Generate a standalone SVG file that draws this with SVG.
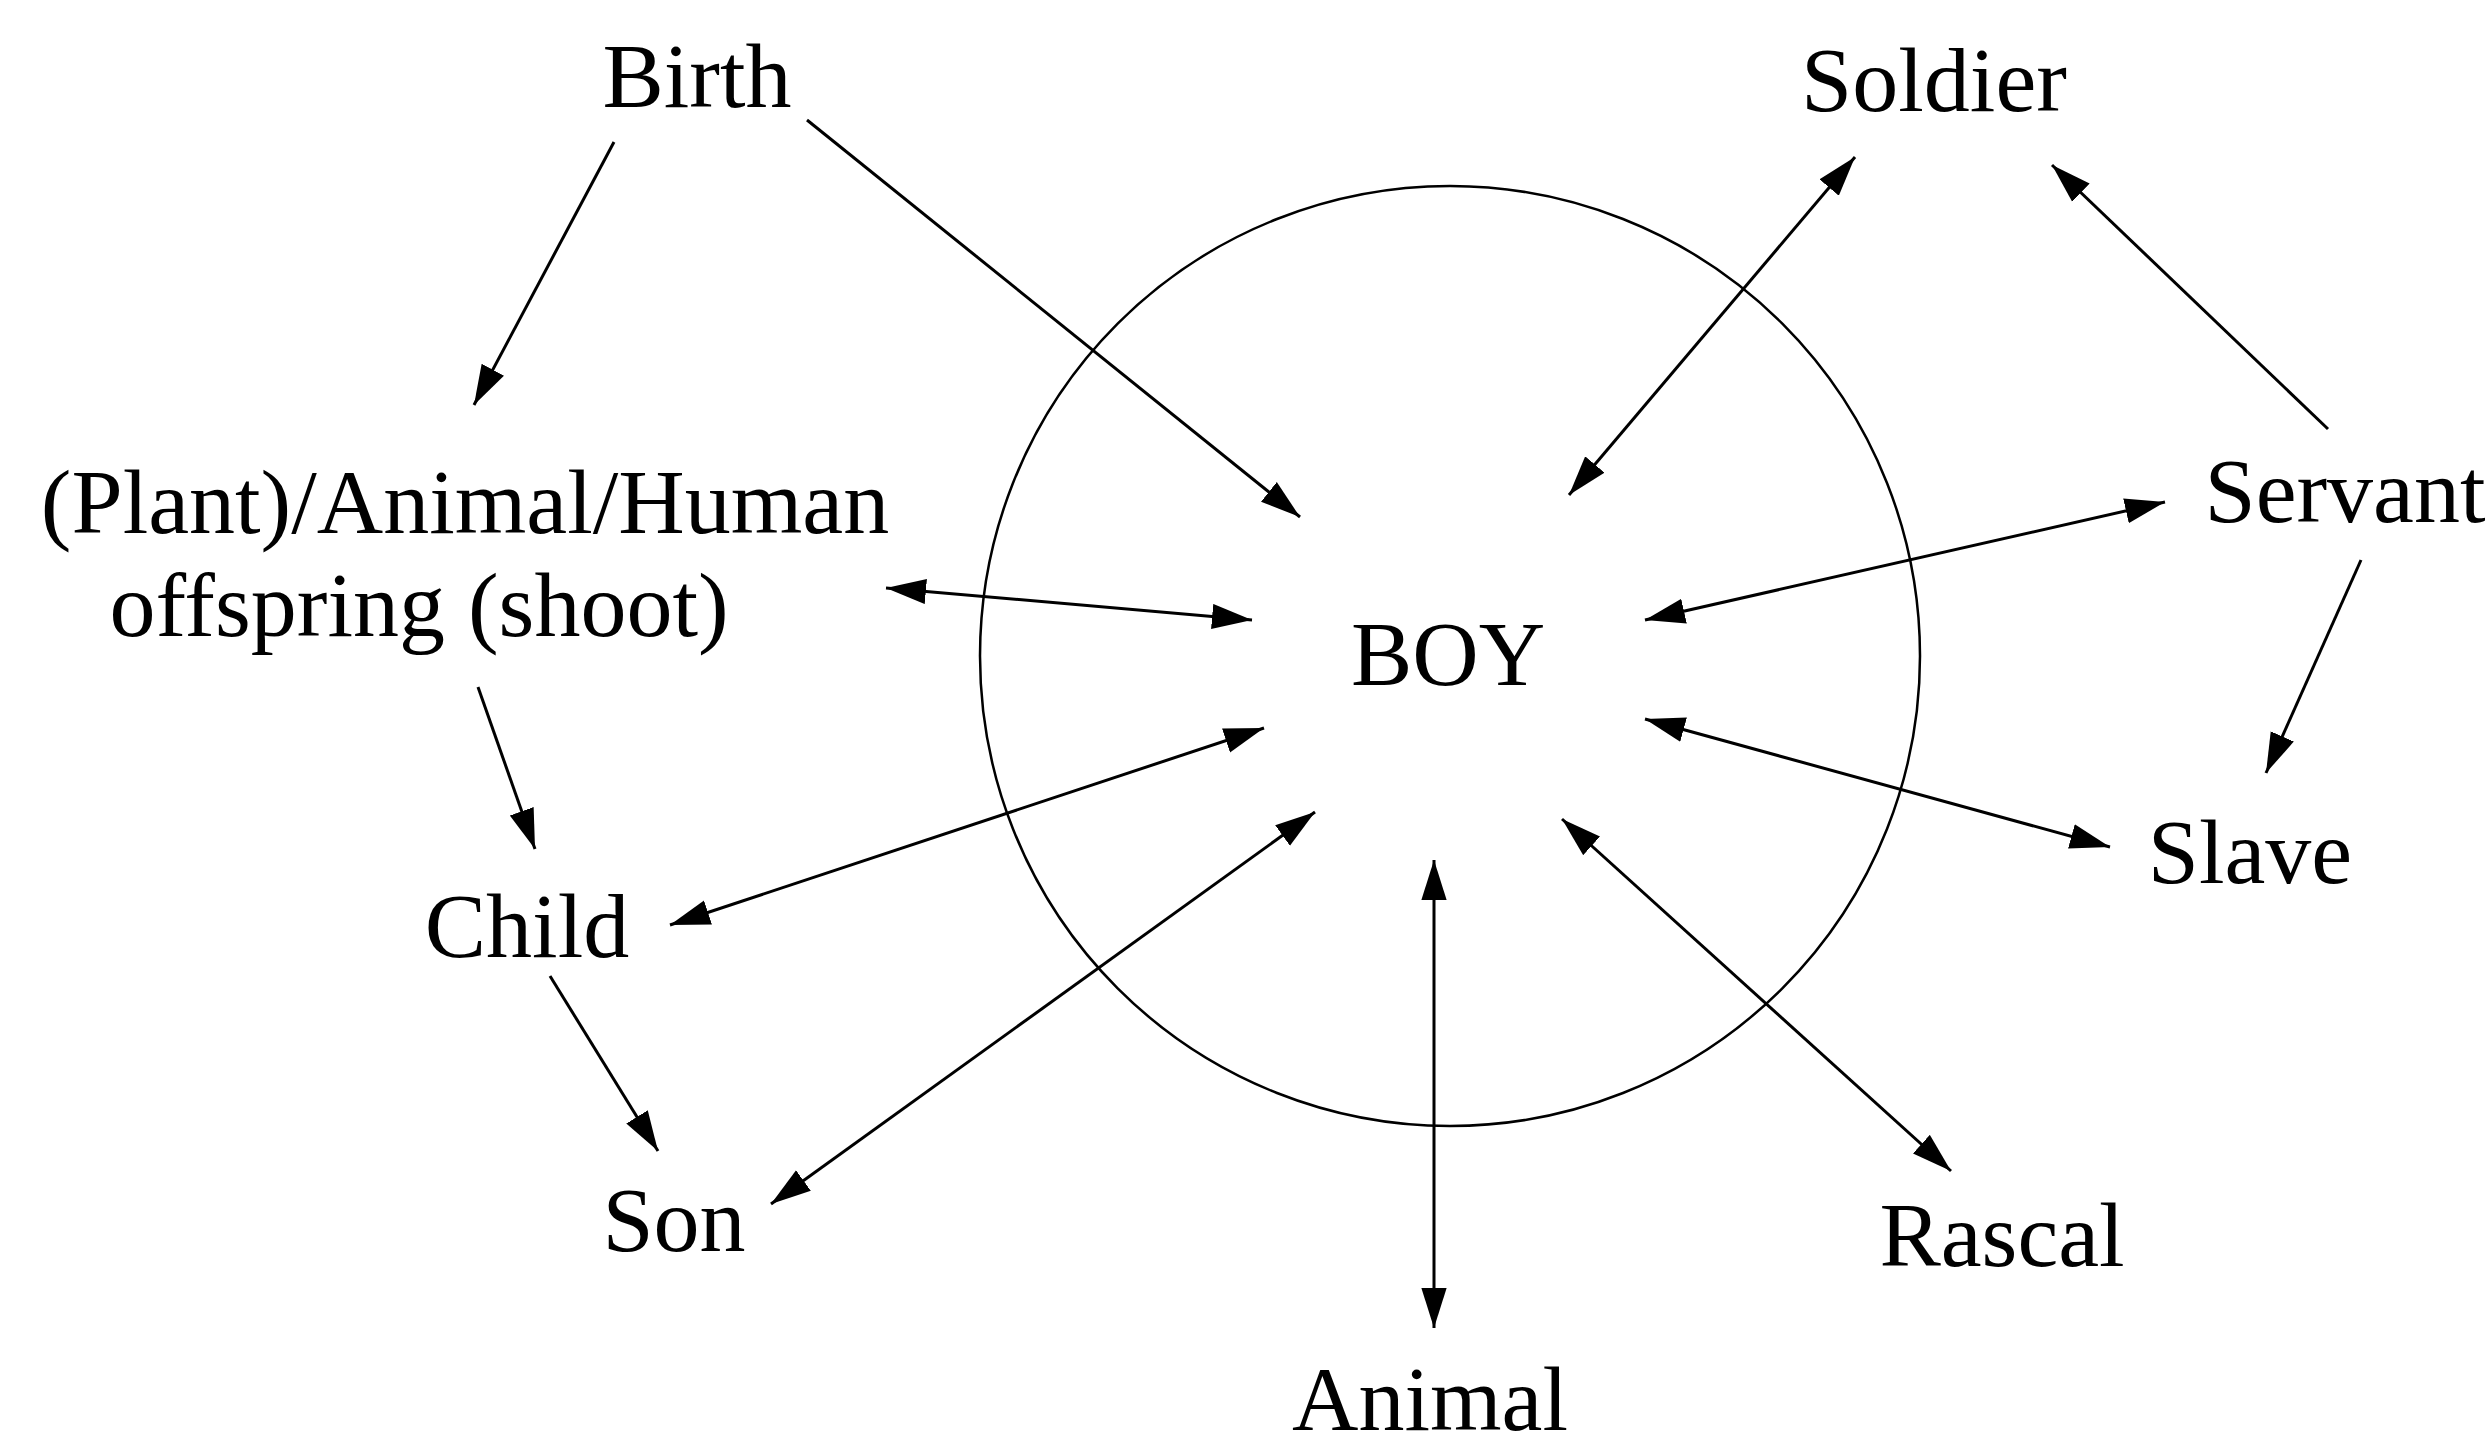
<svg xmlns="http://www.w3.org/2000/svg" width="2491" height="1452" viewBox="0 0 2491 1452">
<style>
text{font-family:"Liberation Serif","Times New Roman",serif;font-size:92px;fill:#000;text-anchor:middle}
.c line{stroke:#000;stroke-width:3;fill:none}
.one{marker-end:url(#ah)}
.two{marker-start:url(#ah);marker-end:url(#ah)}
</style>
<defs>
<marker id="ah" markerUnits="userSpaceOnUse" markerWidth="40" markerHeight="26" refX="38" refY="12" orient="auto-start-reverse" viewBox="0 0 38 24">
<path d="M0,0 L38,12 L0,24 z" fill="#000"/>
</marker>
</defs>
<rect width="2491" height="1452" fill="#fff"/>
<g id="circle"><circle cx="1450" cy="656" r="470" fill="none" stroke="#000" stroke-width="2.5"/></g>
<g id="birth"><text x="697" y="107">Birth</text></g>
<g id="offspring"><text x="465" y="533">(Plant)/Animal/Human</text><text x="419" y="636">offspring (shoot)</text></g>
<g id="child"><text x="527" y="957">Child</text></g>
<g id="son"><text x="674" y="1251">Son</text></g>
<g id="soldier"><text x="1934" y="111">Soldier</text></g>
<g id="servant"><text x="2345" y="522">Servant</text></g>
<g id="boy"><text x="1448" y="685">BOY</text></g>
<g id="slave"><text x="2250" y="883">Slave</text></g>
<g id="rascal"><text x="2002" y="1266">Rascal</text></g>
<g id="animal"><text x="1430" y="1430">Animal</text></g>
<g id="connectors" class="c">
<line class="one" x1="614" y1="142" x2="474" y2="405"/>
<line class="one" x1="807" y1="120" x2="1300" y2="517"/>
<line class="two" x1="886" y1="588" x2="1252" y2="620"/>
<line class="one" x1="478" y1="687" x2="535" y2="849"/>
<line class="two" x1="670" y1="925" x2="1264" y2="728"/>
<line class="one" x1="550" y1="976" x2="658" y2="1151"/>
<line class="two" x1="771" y1="1204" x2="1315" y2="812"/>
<line class="two" x1="1569" y1="495" x2="1855" y2="157"/>
<line class="one" x1="2328" y1="429" x2="2052" y2="165"/>
<line class="two" x1="1645" y1="620" x2="2165" y2="502"/>
<line class="one" x1="2361" y1="560" x2="2266" y2="773"/>
<line class="two" x1="1645" y1="719" x2="2110" y2="847"/>
<line class="two" x1="1434" y1="860" x2="1434" y2="1328"/>
<line class="two" x1="1562" y1="819" x2="1951" y2="1171"/>
</g>
</svg>
